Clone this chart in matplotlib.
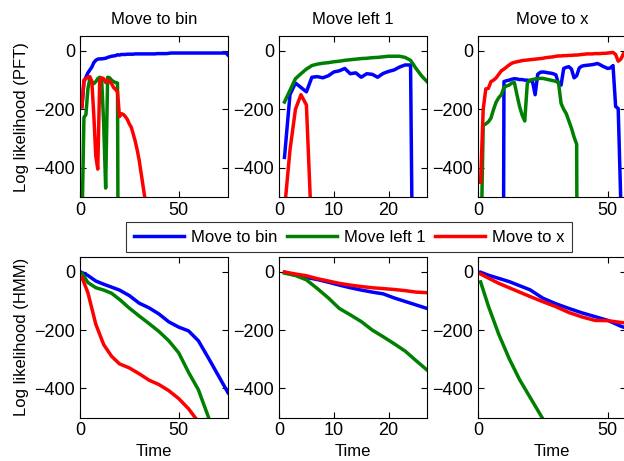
import numpy as np
import matplotlib.pyplot as plt

plt.rcParams.update({
    "font.family": "Liberation Sans",
    "font.size": 12,
    "axes.linewidth": 0.8,
    "xtick.direction": "in",
    "ytick.direction": "in",
    "xtick.top": True,
    "ytick.right": True,
    "xtick.major.size": 4,
    "ytick.major.size": 4,
    "xtick.labelsize": 13,
    "ytick.labelsize": 13,
})

titles = ["Move to bin", "Move left 1", "Move to x"]
colors = {"Move to bin": (0, 0, 1), "Move left 1": (0, 0.5, 0), "Move to x": (1, 0, 0)}

# ---------- PFT log likelihood (top row), one value per frame ----------
# data set "Move to bin" (frames 1..75)
pft_bin_blue = [-190, -105, -90, -75, -65, -55, -40, -32, -28, -27, -27, -26, -25, -22, -20,
                -18, -17, -16, -13, -14, -12, -12, -12, -11, -11, -11, -11, -10, -10, -10,
                -10, -10, -10, -10, -10, -10, -10, -10, -9, -9, -9, -9, -9, -9, -8,
                -7, -7, -7, -7, -7, -7, -7, -7, -7, -7, -7, -7, -7, -7, -7,
                -7, -7, -7, -7, -7, -7, -7, -7, -7, -7, -7, -7, -7, -7, -14]
pft_bin_green = [-600, -228, -218, -130, -95, -105, -112, -105, -95, -90, -100, -250, -470, -90, -92,
                 -100, -105, -108, -110, -2000]
pft_bin_red = [-192, -100, -95, -90, -88, -105, -220, -360, -405, -100, -92, -95, -108, -100, -105,
               -112, -125, -132, -140, -225, -215, -218, -225, -235, -250, -262, -285, -310, -340, -375,
               -420, -465, -510]

# data set "Move left 1" (frames 1..27)
pft_left_blue = [-365, -150, -110, -125, -140, -90, -88, -92, -85, -72, -68, -60, -78, -75, -90,
                 -78, -80, -90, -77, -70, -65, -55, -48, -48, -2000]
pft_left_green = [-175, -135, -95, -78, -62, -50, -45, -42, -40, -37, -35, -32, -30, -28, -26,
                  -25, -23, -22, -20, -18, -18, -18, -22, -32, -60, -85, -105]
pft_left_red = [-545, -340, -200, -150, -185, -640]

# data set "Move to x" (frames 1..56, blue starts at frame 9)
pft_x_blue_start = 9
pft_x_blue = [-3000, -105, -102, -100, -97, -95, -96, -98, -98, -100, -100, -102, -105, -150, -80,
              -73, -72, -73, -75, -76, -78, -82, -112, -117, -60, -56, -54, -62, -92, -85,
              -58, -52, -50, -49, -48, -47, -45, -43, -47, -52, -56, -60, -58, -50, -190,
              -198, -520, -3000]
pft_x_green = [-750, -255, -250, -243, -230, -200, -175, -160, -150, -125, -120, -117, -110, -108, -150,
               -190, -220, -240, -110, -100, -98, -96, -95, -94, -94, -96, -98, -100, -102, -104,
               -108, -180, -200, -215, -240, -265, -295, -320, -3000]
pft_x_red = [-450, -200, -130, -128, -105, -100, -92, -80, -68, -62, -55, -48, -42, -39, -37,
             -35, -33, -32, -31, -30, -29, -28, -27, -26, -25, -23, -22, -21, -20, -18,
             -17, -17, -16, -16, -15, -15, -14, -14, -13, -12, -11, -10, -10, -10, -9,
             -9, -9, -8, -8, -7, -6, -5, -12, -35, -28, -10]

# ---------- HMM log likelihood (bottom row), sampled frames ----------
hmm_bin_t = [1, 4, 8, 12, 16, 20, 25, 30, 35, 40, 45, 50, 55, 60, 65, 70, 75]
hmm_bin_blue = [-3, -13, -32, -43, -53, -63, -82, -108, -124, -145, -172, -190, -203, -237, -295, -355, -415]
hmm_bin_green = [-6, -37, -55, -63, -74, -95, -125, -152, -178, -205, -237, -278, -345, -405, -497, -600]
hmm_bin_red = [-20, -72, -180, -250, -290, -316, -330, -350, -372, -387, -408, -435, -470, -515]

hmm_left_t = [1, 3, 5, 7, 9, 11, 13, 15, 17, 19, 21, 23, 25, 27]
hmm_left_blue = [-2, -12, -20, -27, -36, -46, -55, -63, -70, -76, -90, -102, -114, -126]
hmm_left_green = [-5, -13, -28, -58, -90, -126, -148, -171, -200, -223, -247, -272, -305, -337]
hmm_left_red = [-1, -8, -14, -24, -32, -40, -46, -51, -55, -58, -61, -65, -70, -72]

hmm_x_t = [1, 4, 8, 12, 16, 20, 25, 30, 35, 40, 45, 50, 55, 57]
hmm_x_blue = [-2, -12, -23, -34, -48, -62, -91, -110, -126, -141, -154, -167, -187, -193]
hmm_x_green = [-35, -118, -215, -298, -370, -430, -505]
hmm_x_red = [-8, -22, -40, -55, -70, -85, -103, -120, -140, -155, -167, -168, -174, -176]

xlims = [75, 27, 57]
xticks = [[0, 50], [0, 10, 20], [0, 50]]

W, H = 624, 461
fig = plt.figure(figsize=(W / 100, H / 100), dpi=100)

lefts = [80, 279, 478]
ax_w = 148
top_row = (36.4, 196.8)
bot_row = (257.1, 417.5)


def make_ax(x0, rows):
    y0, y1 = rows
    return fig.add_axes([x0 / W, 1 - y1 / H, ax_w / W, (y1 - y0) / H])


def frames(vals, start=1):
    return np.arange(start, start + len(vals))


top_data = [
    [(frames(pft_bin_blue), pft_bin_blue), (frames(pft_bin_green), pft_bin_green), (frames(pft_bin_red), pft_bin_red)],
    [(frames(pft_left_blue), pft_left_blue), (frames(pft_left_green), pft_left_green), (frames(pft_left_red), pft_left_red)],
    [(frames(pft_x_blue, pft_x_blue_start), pft_x_blue), (frames(pft_x_green), pft_x_green), (frames(pft_x_red), pft_x_red)],
]
bot_data = [
    [(hmm_bin_t, hmm_bin_blue), (hmm_bin_t[:len(hmm_bin_green)], hmm_bin_green), (hmm_bin_t[:len(hmm_bin_red)], hmm_bin_red)],
    [(hmm_left_t, hmm_left_blue), (hmm_left_t, hmm_left_green), (hmm_left_t, hmm_left_red)],
    [(hmm_x_t, hmm_x_blue), (hmm_x_t[:len(hmm_x_green)], hmm_x_green), (hmm_x_t, hmm_x_red)],
]

handles = []
for i in range(3):
    for rows, data in [(top_row, top_data[i]), (bot_row, bot_data[i])]:
        ax = make_ax(lefts[i], rows)
        for name, (t, v) in zip(titles, data):
            ln, = ax.plot(t, v, color=colors[name], lw=2.5, label=name)
            if i == 0 and rows == top_row:
                handles.append(ln)
        ax.set_xlim(0, xlims[i])
        ax.set_ylim(-500, 50)
        ax.set_xticks(xticks[i])
        ax.set_yticks([-400, -200, 0])
        if rows == top_row:
            ax.set_title(titles[i], fontsize=12, pad=9)
        else:
            ax.set_xlabel("Time", labelpad=3)
        if i == 0:
            ax.set_ylabel("Log likelihood (PFT)" if rows == top_row else "Log likelihood (HMM)")

leg = fig.legend(handles, titles, loc="upper left", bbox_to_anchor=(126 / W, 1 - 222 / H),
                 borderaxespad=0, ncol=3, frameon=True, fancybox=False, edgecolor="black",
                 handlelength=3.0, columnspacing=0.55, handletextpad=0.45, borderpad=0.45)
leg.get_frame().set_linewidth(0.8)

fig.savefig("out.png", dpi=100)
